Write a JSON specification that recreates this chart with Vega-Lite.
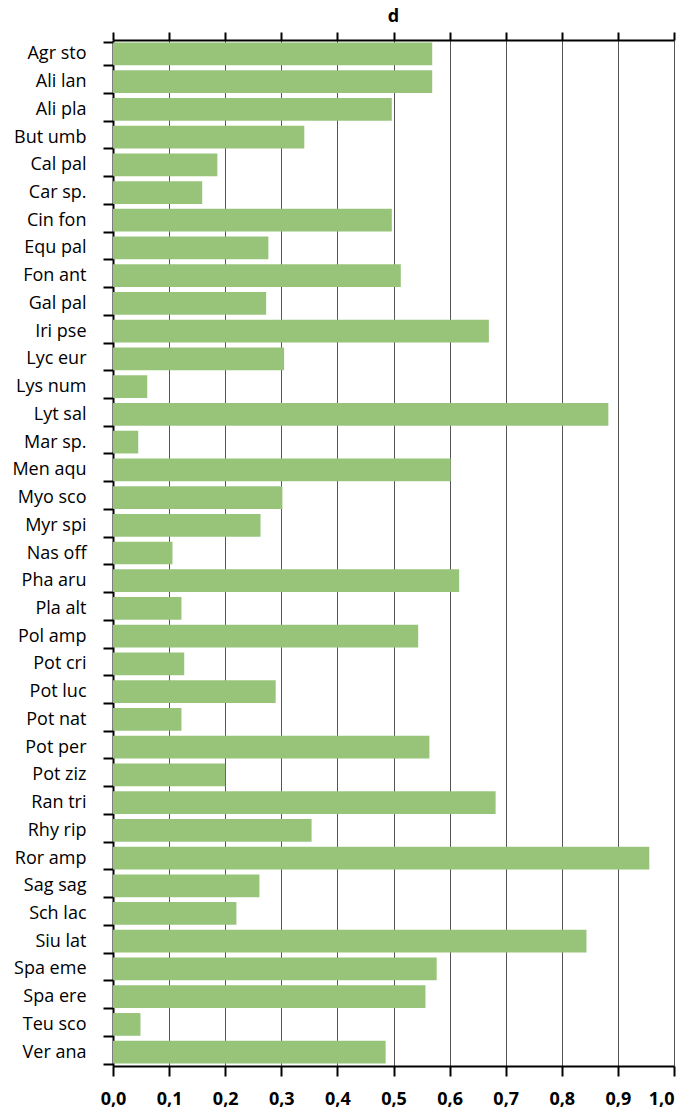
{
  "$schema": "https://vega.github.io/schema/vega-lite/v6.json",
  "autosize": {"type": "none"},
  "padding": {"left": 113, "top": 40, "right": 10, "bottom": 46},
  "width": 561,
  "height": 1026,
  "background": "white",
  "title": {"text": "d", "fontSize": 18, "fontWeight": "bold", "font": "Open Sans", "anchor": "middle", "offset": 5, "color": "black"},
  "data": {"values": [
    {"species": "Agr sto", "d": 0.569},
    {"species": "Ali lan", "d": 0.569},
    {"species": "Ali pla", "d": 0.497},
    {"species": "But umb", "d": 0.341},
    {"species": "Cal pal", "d": 0.186},
    {"species": "Car sp.", "d": 0.159},
    {"species": "Cin fon", "d": 0.497},
    {"species": "Equ pal", "d": 0.277},
    {"species": "Fon ant", "d": 0.513},
    {"species": "Gal pal", "d": 0.273},
    {"species": "Iri pse", "d": 0.670},
    {"species": "Lyc eur", "d": 0.305},
    {"species": "Lys num", "d": 0.061},
    {"species": "Lyt sal", "d": 0.883},
    {"species": "Mar sp.", "d": 0.045},
    {"species": "Men aqu", "d": 0.602},
    {"species": "Myo sco", "d": 0.302},
    {"species": "Myr spi", "d": 0.263},
    {"species": "Nas off", "d": 0.106},
    {"species": "Pha aru", "d": 0.617},
    {"species": "Pla alt", "d": 0.122},
    {"species": "Pol amp", "d": 0.544},
    {"species": "Pot cri", "d": 0.127},
    {"species": "Pot luc", "d": 0.290},
    {"species": "Pot nat", "d": 0.122},
    {"species": "Pot per", "d": 0.564},
    {"species": "Pot ziz", "d": 0.200},
    {"species": "Ran tri", "d": 0.682},
    {"species": "Rhy rip", "d": 0.354},
    {"species": "Ror amp", "d": 0.956},
    {"species": "Sag sag", "d": 0.261},
    {"species": "Sch lac", "d": 0.220},
    {"species": "Siu lat", "d": 0.844},
    {"species": "Spa eme", "d": 0.577},
    {"species": "Spa ere", "d": 0.557},
    {"species": "Teu sco", "d": 0.049},
    {"species": "Ver ana", "d": 0.486}
  ]},
  "encoding": {
    "y": {
      "field": "species", "type": "nominal", "sort": null,
      "scale": {"paddingInner": 0.18, "paddingOuter": 0.09},
      "axis": {"title": null, "tickBand": "extent", "tickSize": 10, "tickWidth": 2, "tickColor": "black", "domainColor": "black", "domainWidth": 2, "labelFont": "Open Sans", "labelFontSize": 18, "labelColor": "black", "labelPadding": 17, "grid": false}
    }
  },
  "layer": [
    {
      "mark": {"type": "bar", "color": "#98c47a"},
      "encoding": {
        "x": {
          "field": "d", "type": "quantitative",
          "scale": {"domain": [0, 1], "nice": false},
          "axis": {"title": null, "orient": "bottom", "values": [0, 0.1, 0.2, 0.3, 0.4, 0.5, 0.6, 0.7, 0.8, 0.9, 1], "grid": true, "gridColor": "#555555", "gridWidth": 1, "tickSize": 10, "tickWidth": 2, "tickColor": "black", "domainColor": "black", "domainWidth": 2, "labelFont": "Open Sans", "labelFontWeight": "bold", "labelFontSize": 18, "labelColor": "black", "labelPadding": 14, "labelFlush": false, "labelAlign": {"expr": "datum.value == 1 ? 'right' : 'center'"}, "labelExpr": "replace(format(datum.value, '.1f'), '.', ',')"}
        }
      }
    },
    {
      "mark": {"type": "bar", "opacity": 0},
      "encoding": {
        "x": {
          "field": "d", "type": "quantitative",
          "axis": {"title": null, "orient": "top", "values": [0, 0.1, 0.2, 0.3, 0.4, 0.5, 0.6, 0.7, 0.8, 0.9, 1], "labels": false, "grid": false, "tickSize": 8, "tickWidth": 2, "tickColor": "black", "domainColor": "black", "domainWidth": 2}
        }
      }
    }
  ],
  "resolve": {"axis": {"x": "independent"}},
  "config": {"view": {"stroke": null}}
}
